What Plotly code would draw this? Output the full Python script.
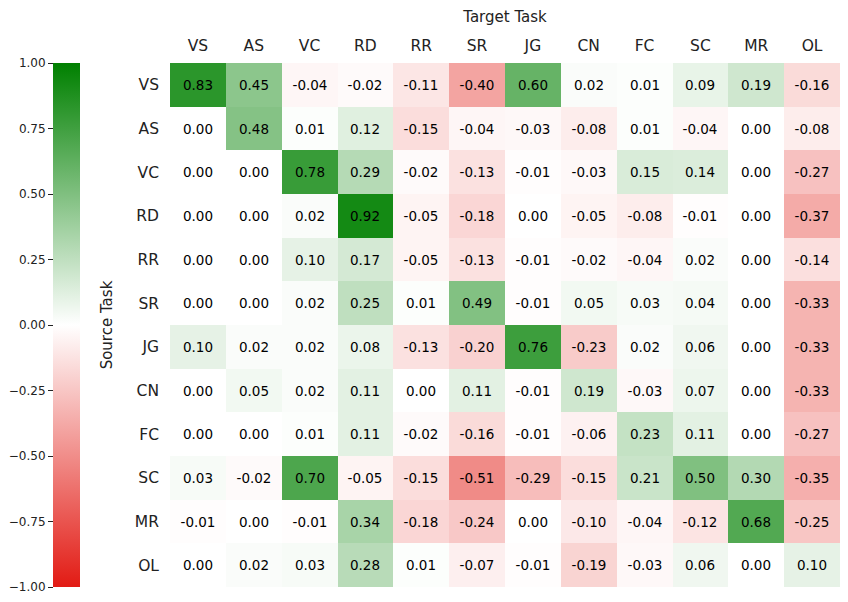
import plotly.graph_objects as go

tasks = ["VS", "AS", "VC", "RD", "RR", "SR", "JG", "CN", "FC", "SC", "MR", "OL"]

row_VS = [0.83, 0.45, -0.04, -0.02, -0.11, -0.40, 0.60, 0.02, 0.01, 0.09, 0.19, -0.16]
row_AS = [0.00, 0.48, 0.01, 0.12, -0.15, -0.04, -0.03, -0.08, 0.01, -0.04, 0.00, -0.08]
row_VC = [0.00, 0.00, 0.78, 0.29, -0.02, -0.13, -0.01, -0.03, 0.15, 0.14, 0.00, -0.27]
row_RD = [0.00, 0.00, 0.02, 0.92, -0.05, -0.18, 0.00, -0.05, -0.08, -0.01, 0.00, -0.37]
row_RR = [0.00, 0.00, 0.10, 0.17, -0.05, -0.13, -0.01, -0.02, -0.04, 0.02, 0.00, -0.14]
row_SR = [0.00, 0.00, 0.02, 0.25, 0.01, 0.49, -0.01, 0.05, 0.03, 0.04, 0.00, -0.33]
row_JG = [0.10, 0.02, 0.02, 0.08, -0.13, -0.20, 0.76, -0.23, 0.02, 0.06, 0.00, -0.33]
row_CN = [0.00, 0.05, 0.02, 0.11, 0.00, 0.11, -0.01, 0.19, -0.03, 0.07, 0.00, -0.33]
row_FC = [0.00, 0.00, 0.01, 0.11, -0.02, -0.16, -0.01, -0.06, 0.23, 0.11, 0.00, -0.27]
row_SC = [0.03, -0.02, 0.70, -0.05, -0.15, -0.51, -0.29, -0.15, 0.21, 0.50, 0.30, -0.35]
row_MR = [-0.01, 0.00, -0.01, 0.34, -0.18, -0.24, 0.00, -0.10, -0.04, -0.12, 0.68, -0.25]
row_OL = [0.00, 0.02, 0.03, 0.28, 0.01, -0.07, -0.01, -0.19, -0.03, 0.06, 0.00, 0.10]

z = [row_VS, row_AS, row_VC, row_RD, row_RR, row_SR,
     row_JG, row_CN, row_FC, row_SC, row_MR, row_OL]

cbar_ticks = [-1.0, -0.75, -0.5, -0.25, 0.0, 0.25, 0.5, 0.75, 1.0]

FONT = "DejaVu Sans"
colorscale = [[0.0, "rgb(226,27,20)"], [0.5, "rgb(255,255,255)"], [1.0, "rgb(0,128,0)"]]

text = [[f"{v:.2f}" for v in row] for row in z]

fig = go.Figure()
fig.add_trace(go.Heatmap(
    z=z, x=tasks, y=tasks,
    zmin=-1, zmax=1,
    colorscale=colorscale,
    text=text, texttemplate="%{text}",
    textfont=dict(family=FONT, size=13.5, color="black"),
    colorbar=dict(
        x=0, xanchor="left", xref="paper",
        y=0.5, yanchor="middle", len=1.0, lenmode="fraction",
        thickness=27, thicknessmode="pixels",
        outlinewidth=0, xpad=0, ypad=0,
        showticklabels=False, ticks="",
    ),
))
# empty helper trace so the colorbar tick axis (y2) is drawn
fig.add_trace(go.Scatter(x=[], y=[], yaxis="y2", showlegend=False, hoverinfo="skip"))

fig.update_layout(
    width=840, height=594,
    paper_bgcolor="white", plot_bgcolor="white",
    margin=dict(l=45, r=8, t=55, b=15, autoexpand=False),
    font=dict(family=FONT, size=15, color="#222"),
    xaxis=dict(
        domain=[(170 - 53) / 787, 1.0], automargin=False,
        side="top", showgrid=False, zeroline=False, ticks="",
        tickfont=dict(size=15.5), ticklabelstandoff=8,
        title=dict(text="Target Task", font=dict(size=15), standoff=11),
    ),
    yaxis=dict(
        autorange="reversed", showgrid=False, zeroline=False, ticks="",
        automargin=False,
        tickfont=dict(size=15.5), ticklabelstandoff=10,
        title=dict(text="Source Task", font=dict(size=15), standoff=18),
    ),
    yaxis2=dict(
        overlaying="y", anchor="free", position=0, side="left",
        automargin=False,
        range=[-1, 1], tickvals=cbar_ticks,
        ticktext=[f"{v:.2f}".replace("-", "\u2212") for v in cbar_ticks],
        ticks="outside", ticklen=5, tickwidth=1.2, tickcolor="#222",
        showgrid=False, zeroline=False, showline=False,
        tickfont=dict(size=12),
    ),
)

fig.write_html("out.html")
